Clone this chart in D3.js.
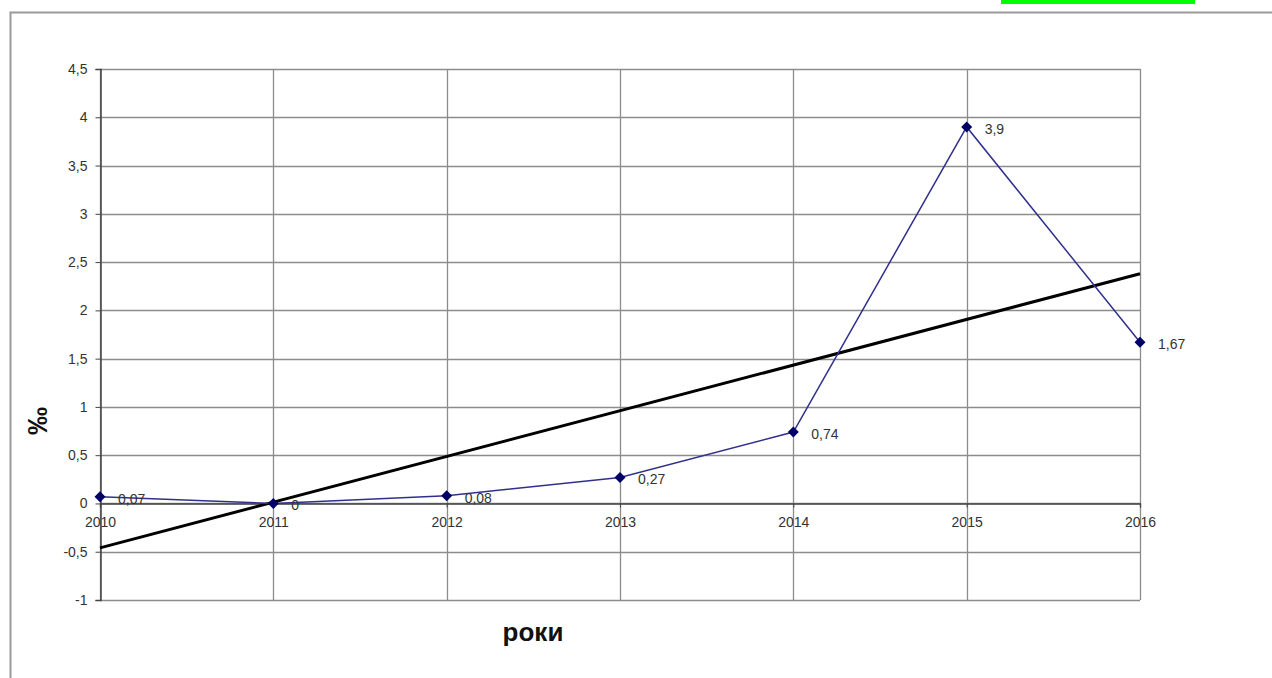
<!DOCTYPE html>
<html>
<head>
<meta charset="utf-8">
<script src="https://cdn.jsdelivr.net/npm/d3@7"></script>
<style>
  html, body { margin: 0; padding: 0; background: #fff; }
  svg { display: block; }
  text { font-family: Arial, "Liberation Sans", sans-serif; }
</style>
</head>
<body>
<svg id="chart" width="1272" height="678"></svg>
<script>
// Years on the horizontal axis
const years = ["2010", "2011", "2012", "2013", "2014", "2015", "2016"];
// Indicator values, per mille
const values = [0.07, 0, 0.08, 0.27, 0.74, 3.9, 1.67];
// Data labels as printed next to each point
const valueLabels = ["0,07", "0", "0,08", "0,27", "0,74", "3,9", "1,67"];
// Linear trend line values at the first and last year
const trendYears = ["2010", "2016"];
const trendValues = [-0.46, 2.38];
// Vertical axis ticks
const yTicks = [-1, -0.5, 0, 0.5, 1, 1.5, 2, 2.5, 3, 3.5, 4, 4.5];

const svg = d3.select("#chart");

// Highlight strip and outer frame of the figure
svg.append("rect").attr("x", 1001).attr("y", 0).attr("width", 194).attr("height", 4).attr("fill", "#00ff00");
svg.append("path").attr("d", "M1272,12.5 H10.5 V678")
  .attr("fill", "none").attr("stroke", "#9a9a9a").attr("stroke-width", 2);

const plot = { left: 100, right: 1140, top: 69, bottom: 600 };

const x = d3.scalePoint().domain(years).range([plot.left, plot.right]);
const y = d3.scaleLinear().domain([-1, 4.5]).range([plot.bottom, plot.top]);

const fmt = v => String(v).replace(".", ",");

// Horizontal gridlines
svg.append("g").selectAll("line").data(yTicks).join("line")
  .attr("x1", plot.left).attr("x2", plot.right)
  .attr("y1", d => Math.round(y(d)) + 0.5).attr("y2", d => Math.round(y(d)) + 0.5)
  .attr("stroke", "#8c8c8c").attr("stroke-width", 1.3);

// Vertical gridlines
svg.append("g").selectAll("line").data(years).join("line")
  .attr("x1", d => Math.round(x(d)) + 0.5).attr("x2", d => Math.round(x(d)) + 0.5)
  .attr("y1", plot.top).attr("y2", plot.bottom)
  .attr("stroke", "#8c8c8c").attr("stroke-width", 1.3);

// Vertical axis
const yAxis = d3.axisLeft(y).tickValues(yTicks).tickSize(5).tickPadding(8).tickFormat(fmt);
const gy = svg.append("g").attr("transform", `translate(${plot.left + 0.5},0)`).call(yAxis);
gy.select(".domain").attr("stroke", "#444").attr("stroke-width", 1.5);
gy.selectAll(".tick line").attr("stroke", "#444");
gy.selectAll(".tick text").attr("font-size", 14).attr("fill", "#333").attr("font-family", "Arial, 'Liberation Sans', sans-serif");

// Horizontal axis along the zero line
const xAxis = d3.axisBottom(x).tickSize(4).tickPadding(10);
const gx = svg.append("g").attr("transform", `translate(0,${Math.round(y(0)) + 0.5})`).call(xAxis);
gx.select(".domain").attr("stroke", "#444").attr("stroke-width", 1.3);
gx.selectAll(".tick line").attr("stroke", "#444");
gx.selectAll(".tick text").attr("font-size", 14).attr("fill", "#333").attr("font-family", "Arial, 'Liberation Sans', sans-serif");

// Trend line
const trendLine = d3.line().x((d, i) => x(trendYears[i])).y(d => y(d));
svg.append("path").datum(trendValues).attr("d", trendLine)
  .attr("fill", "none").attr("stroke", "#000").attr("stroke-width", 3);

// Series line
const line = d3.line().x((d, i) => x(years[i])).y(d => y(d));
svg.append("path").datum(values).attr("d", line)
  .attr("fill", "none").attr("stroke", "#30308c").attr("stroke-width", 1.5);

// Diamond markers
svg.append("g").selectAll("path").data(values).join("path")
  .attr("transform", (d, i) => `translate(${x(years[i])},${y(d)})`)
  .attr("d", "M0,-5.5 L5.5,0 L0,5.5 L-5.5,0 Z")
  .attr("fill", "#000066");

// Value labels
svg.append("g").selectAll("text").data(values).join("text")
  .attr("x", (d, i) => x(years[i]) + 18)
  .attr("y", d => y(d) + 7)
  .attr("font-size", 14).attr("fill", "#333")
  .text((d, i) => valueLabels[i]);

// Axis titles
svg.append("text")
  .attr("transform", "translate(47,421) rotate(-90)")
  .attr("text-anchor", "middle").attr("font-size", 28).attr("font-weight", "bold").attr("fill", "#111")
  .text("‰");
svg.append("text")
  .attr("x", 533).attr("y", 641)
  .attr("text-anchor", "middle").attr("font-size", 26).attr("font-weight", "bold").attr("fill", "#111")
  .text("роки");
</script>
</body>
</html>
